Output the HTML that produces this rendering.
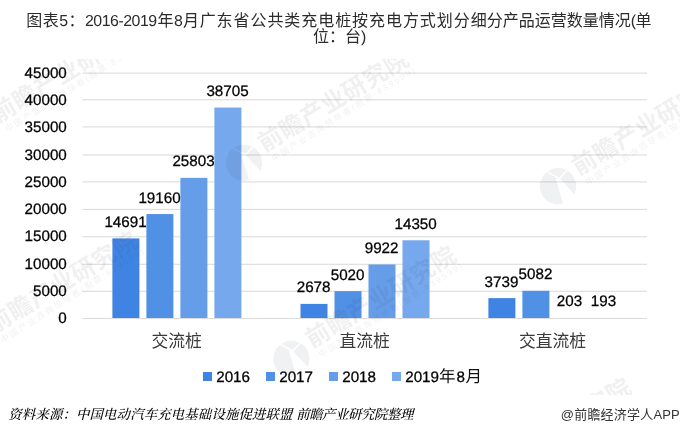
<!DOCTYPE html>
<html lang="zh-CN">
<head>
<meta charset="utf-8">
<title>图表5</title>
<style>
html,body{margin:0;padding:0;background:#fff;}
body{width:680px;height:435px;overflow:hidden;position:relative;font-family:"Liberation Sans","Noto Sans CJK SC",sans-serif;}
svg{position:absolute;left:0;top:0;display:block;}
.title{position:absolute;left:0;top:13px;width:680px;margin:0;font-weight:normal;font-size:16px;line-height:16px;color:#2b2b2b;white-space:nowrap;}
.title .n{text-rendering:geometricPrecision;font-size:15.9px;letter-spacing:-.47px;}
.l1{display:block;height:16px;padding-left:26.3px;}
.l2{display:block;height:16px;padding-left:313px;}
.a{letter-spacing:.5px;}
.a .n{margin-right:.75px;}
.b{letter-spacing:.94px;}
.src{position:absolute;left:8.3px;top:405px;font-family:"Liberation Serif","Noto Serif CJK SC",serif;font-size:13.4px;line-height:20px;font-style:italic;font-weight:500;color:#000;white-space:nowrap;letter-spacing:.15px;}
.s2{letter-spacing:-.42px;}
.app{position:absolute;right:0;top:405px;font-size:13px;line-height:20px;color:#333;white-space:nowrap;letter-spacing:.2px;}
.ax{text-rendering:geometricPrecision;font-size:15.2px;fill:#000;stroke:#000;stroke-width:.28px;}
.cat{font-size:16.8px;fill:#3a3a3a;}
.cj{font-size:16.5px;stroke:none;fill:#111;}
.wm{fill:#303048;fill-opacity:.075;}
.lg{fill:#404c6c;fill-opacity:.08;}
.w1{font-size:24px;font-weight:bold;letter-spacing:.5px;}
.w2{font-size:8.5px;letter-spacing:2px;}
</style>
</head>
<body>
<h1 class="title"><span class="l1"><span class="a">图表<span class="n">5</span>：<span class="n">2016-2019</span>年<span class="n">8</span>月</span><span class="b">广东省公共类充电桩按充电方式划分</span><span class="c">细分产品运营数量情况<span class="n">(</span>单</span></span><span class="l2">位：台<span class="n">)</span></span></h1>

<svg width="680" height="435" viewBox="0 0 680 435" font-family="'Liberation Sans','Noto Sans CJK SC',sans-serif">
<rect x="82.5" y="317.95" width="564.5" height="1.1" fill="#dcdcdc"/>
<rect x="82.5" y="290.75" width="564.5" height="1.1" fill="#dcdcdc"/>
<rect x="82.5" y="263.75" width="564.5" height="1.1" fill="#dcdcdc"/>
<rect x="82.5" y="236.25" width="564.5" height="1.1" fill="#dcdcdc"/>
<rect x="82.5" y="208.85" width="564.5" height="1.1" fill="#dcdcdc"/>
<rect x="82.5" y="181.35" width="564.5" height="1.1" fill="#dcdcdc"/>
<rect x="82.5" y="154.45" width="564.5" height="1.1" fill="#dcdcdc"/>
<rect x="82.5" y="126.35" width="564.5" height="1.1" fill="#dcdcdc"/>
<rect x="82.5" y="99.25" width="564.5" height="1.1" fill="#dcdcdc"/>
<rect x="82.5" y="72.55" width="564.5" height="1.1" fill="#dcdcdc"/>
<rect x="112.40" y="238.43" width="27" height="79.57" fill="#4084e3"/>
<text class="ax" transform="translate(125.50,226.7)" text-anchor="middle">14691</text>
<rect x="146.40" y="214.08" width="27" height="103.92" fill="#5090e5"/>
<text class="ax" transform="translate(159.50,202.7)" text-anchor="middle">19160</text>
<rect x="180.40" y="177.87" width="27" height="140.13" fill="#659de9"/>
<text class="ax" transform="translate(193.50,165.7)" text-anchor="middle">25803</text>
<rect x="214.40" y="107.56" width="27" height="210.44" fill="#75a8ec"/>
<text class="ax" transform="translate(227.50,95.7)" text-anchor="middle">38705</text>
<rect x="300.50" y="303.90" width="27" height="14.10" fill="#4084e3"/>
<text class="ax" transform="translate(313.60,291.7)" text-anchor="middle">2678</text>
<rect x="334.50" y="291.14" width="27" height="26.86" fill="#5090e5"/>
<text class="ax" transform="translate(347.60,279.7)" text-anchor="middle">5020</text>
<rect x="368.50" y="264.43" width="27" height="53.57" fill="#659de9"/>
<text class="ax" transform="translate(381.60,252.7)" text-anchor="middle">9922</text>
<rect x="402.50" y="240.29" width="27" height="77.71" fill="#75a8ec"/>
<text class="ax" transform="translate(415.60,228.7)" text-anchor="middle">14350</text>
<rect x="488.40" y="298.12" width="27" height="19.88" fill="#4084e3"/>
<text class="ax" transform="translate(501.50,286.7)" text-anchor="middle">3739</text>
<rect x="522.40" y="290.80" width="27" height="27.20" fill="#5090e5"/>
<text class="ax" transform="translate(535.50,278.7)" text-anchor="middle">5082</text>
<text class="ax" transform="translate(569.50,305.7)" text-anchor="middle">203</text>
<text class="ax" transform="translate(603.50,305.7)" text-anchor="middle">193</text>
<text class="ax" transform="translate(66.8,322.7)" text-anchor="end">0</text>
<text class="ax" transform="translate(66.8,295.7)" text-anchor="end">5000</text>
<text class="ax" transform="translate(66.8,268.7)" text-anchor="end">10000</text>
<text class="ax" transform="translate(66.8,240.7)" text-anchor="end">15000</text>
<text class="ax" transform="translate(66.8,213.7)" text-anchor="end">20000</text>
<text class="ax" transform="translate(66.8,186.7)" text-anchor="end">25000</text>
<text class="ax" transform="translate(66.8,159.7)" text-anchor="end">30000</text>
<text class="ax" transform="translate(66.8,131.7)" text-anchor="end">35000</text>
<text class="ax" transform="translate(66.8,104.7)" text-anchor="end">40000</text>
<text class="ax" transform="translate(66.8,77.7)" text-anchor="end">45000</text>
<text class="cat" x="176.7" y="347" text-anchor="middle">交流桩</text>
<text class="cat" x="364.6" y="347" text-anchor="middle">直流桩</text>
<text class="cat" x="552.6" y="347" text-anchor="middle">交直流桩</text>
<rect x="203" y="372" width="9" height="9" fill="#4084e3"/>
<text class="ax" transform="translate(216.2,381.8)">2016</text>
<rect x="266" y="372" width="9" height="9" fill="#5090e5"/>
<text class="ax" transform="translate(279.2,381.8)">2017</text>
<rect x="329" y="372" width="9" height="9" fill="#659de9"/>
<text class="ax" transform="translate(342.2,381.8)">2018</text>
<rect x="392" y="372" width="9" height="9" fill="#75a8ec"/>
<text class="ax" transform="translate(405.2,381.8)">2019<tspan class="cj">年</tspan><tspan dx=".9">8</tspan><tspan class="cj" dx=".6">月</tspan></text>
<defs><clipPath id="cp"><rect x="0" y="59" width="680" height="336"/></clipPath><mask id="lm" maskUnits="userSpaceOnUse" x="-19" y="-19" width="38" height="38"><circle r="18.3" fill="#fff"/><path d="M-2.5,-7.6 L1.9,-7.6 L18,10 L6,20 Z" fill="#000"/><path d="M-11,-14.4 L1.5,-7.8 L9.5,-16.5" fill="none" stroke="#000" stroke-width="1.5"/></mask></defs>
<g clip-path="url(#cp)"><g class="wm"><g transform="translate(-22.5,133.6)" class="lg"><circle r="18.3" mask="url(#lm)"/></g><g transform="translate(3.5,108.8) rotate(-31.3)"><text class="w1" x="-12.2" y="9.6">前瞻产业研究院</text><text class="w2" x="-9" y="22.4" transform="rotate(-1.2 -9 22.4)">中国产业咨询领导者(股票:839599)</text></g><g transform="translate(244,162.8)" class="lg"><circle r="18.3" mask="url(#lm)"/></g><g transform="translate(270,138) rotate(-31.3)"><text class="w1" x="-12.2" y="9.6">前瞻产业研究院</text><text class="w2" x="-9" y="22.4" transform="rotate(-1.2 -9 22.4)">中国产业咨询领导者(股票:839599)</text></g><g transform="translate(558,186.20000000000002)" class="lg"><circle r="18.3" mask="url(#lm)"/></g><g transform="translate(584,161.4) rotate(-31.3)"><text class="w1" x="-12.2" y="9.6">前瞻产业研究院</text><text class="w2" x="-9" y="22.4" transform="rotate(-1.2 -9 22.4)">中国产业咨询领导者(股票:839599)</text></g><g transform="translate(-27,344.3)" class="lg"><circle r="18.3" mask="url(#lm)"/></g><g transform="translate(-1,319.5) rotate(-31.3)"><text class="w1" x="-12.2" y="9.6">前瞻产业研究院</text><text class="w2" x="-9" y="22.4" transform="rotate(-1.2 -9 22.4)">中国产业咨询领导者(股票:839599)</text></g><g transform="translate(291.4,358.8)" class="lg"><circle r="18.3" mask="url(#lm)"/></g><g transform="translate(317.4,334) rotate(-31.3)"><text class="w1" x="-12.2" y="9.6">前瞻产业研究院</text><text class="w2" x="-9" y="22.4" transform="rotate(-1.2 -9 22.4)">中国产业咨询领导者(股票:839599)</text></g><g transform="translate(466.4,490.8)" class="lg"><circle r="18.3" mask="url(#lm)"/></g><g transform="translate(492.4,466) rotate(-31.3)"><text class="w1" x="-12.2" y="9.6">前瞻产业研究院</text><text class="w2" x="-9" y="22.4" transform="rotate(-1.2 -9 22.4)">中国产业咨询领导者(股票:839599)</text></g></g></g>
</svg>
<div class="src">资料来源：中国电动汽车充电基础设施促进联盟 <span class="s2">前瞻产业研究院整理</span></div>
<div class="app">@前瞻经济学人APP</div>
</body>
</html>
